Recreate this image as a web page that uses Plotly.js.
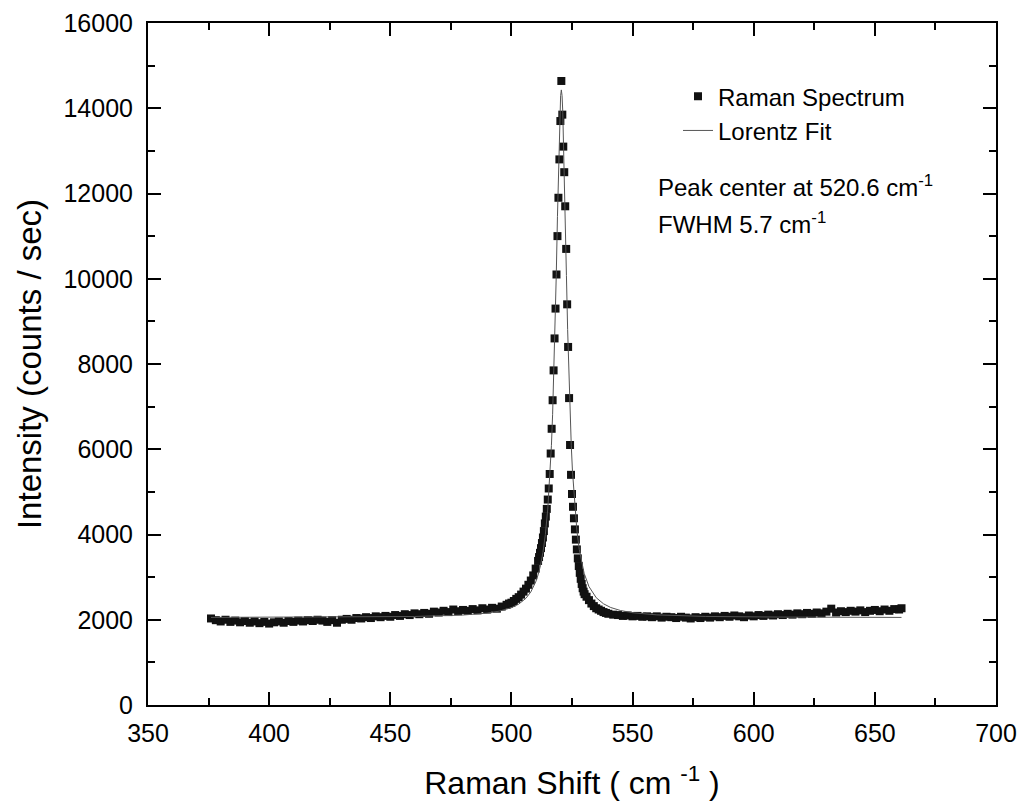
<!DOCTYPE html>
<html>
<head>
<meta charset="utf-8">
<script src="https://cdn.plot.ly/plotly-3.0.1.min.js"></script>
<style>html,body{margin:0;padding:0;background:#fff;}#chart{width:1022px;height:809px;}</style>
</head>
<body>
<div id="chart"></div>
<script>
// Measured Raman spectrum (Raman shift in cm^-1, intensity in counts/sec)
const ramanShift = [
376,378,380,382,384,386,388,390,392,394,396,398,400,402,404,406,408,410,412,414,416,418,420,422,424,426,428,430,
432,434,436,438,440,442,444,446,448,450,452,454,456,458,460,462,464,466,468,470,472,474,476,478,480,482,484,486,488,490,
492,494,496,498,499,500,501,502,503,504,505,506,507,508,509,510,511,
511.4,511.8,512.2,512.6,513.0,513.4,513.8,514.2,514.6,515.0,515.4,515.8,516.2,516.6,517.0,517.4,517.8,518.2,518.6,519.0,
519.4,519.8,520.2,520.6,521.0,521.4,521.8,522.2,522.6,523.0,523.4,523.8,524.2,524.6,525.0,525.4,525.8,526.2,526.6,527.0,
527.4,527.8,528.2,528.6,529.0,529.4,529.8,530.2,
531,532,533,534,535,536,537,538,539,540,
542,544,546,548,550,552,554,556,558,560,562,564,566,568,570,572,574,576,578,580,582,584,586,588,590,592,594,596,598,600,
602,604,606,608,610,612,614,616,618,620,622,624,626,628,630,632,634,636,638,640,642,644,646,648,650,652,654,656,658,660,661
];
const ramanIntensity = [
2030,1990,1960,2000,1950,1980,1940,1970,1930,1960,1920,1950,1910,1940,1960,1930,1970,1950,1980,1960,1990,1970,2000,1980,1950,1990,1930,2000,
2020,2000,2040,2030,2060,2040,2080,2060,2090,2070,2110,2090,2130,2110,2150,2130,2160,2140,2190,2170,2210,2180,2240,2200,2230,2210,2250,2220,2270,2240,
2280,2260,2310,2350,2380,2400,2440,2490,2530,2590,2660,2730,2820,2920,3040,3200,3380,
3470,3570,3680,3800,3930,4080,4260,4420,4600,4820,5080,5420,5900,6480,7150,7850,8600,9300,10100,11000,
11900,12800,13700,14640,13850,13100,12500,11700,10700,9400,8400,7200,6100,5400,4950,4650,4380,4120,3880,3650,
3440,3260,3100,2960,2840,2740,2660,2600,
2540,2460,2380,2320,2270,2240,2210,2180,2160,2140,
2120,2110,2090,2100,2080,2090,2070,2080,2060,2080,2050,2070,2060,2040,2070,2050,2030,2060,2040,2070,2050,2080,2060,2090,2070,2100,2080,2060,2100,2080,
2110,2090,2120,2100,2130,2110,2140,2120,2150,2130,2160,2140,2170,2150,2190,2260,2170,2200,2180,2210,2190,2220,2180,2210,2230,2200,2240,2210,2250,2240,2270
];
// Lorentz fit curve values
const fitShift = [
376,400,430,460,480,490,495,500,503,506,508,510,511,512,513,514,515,516,516.5,517,517.5,518,518.5,519,519.5,520,520.3,520.6,
520.9,521.2,521.7,522.2,522.7,523.2,523.7,524.2,524.7,525.2,526,527,528,529,530,532,535,538,541,545,550,560,580,610,640,661
];
const fitIntensity = [
2055,2057,2062,2077,2111,2156,2202,2283,2366,2504,2652,2885,3052,3275,3576,3996,4597,5484,6083,6820,7721,8807,10074,11463,12825,13905,14294,14430,
14294,13905,12825,11463,10074,8807,7721,6820,6083,5484,4747,4099,3649,3328,3092,2778,2517,2374,2287,2217,2165,2114,2078,2063,2057,2055
];
const seriesNames = ["Raman Spectrum", "Lorentz Fit"];
const xTickVals = [350,400,450,500,550,600,650,700];
const yTickVals = [0,2000,4000,6000,8000,10000,12000,14000,16000];

const FONT = "Liberation Sans, Arial, Helvetica, sans-serif";

const traces = [
  {
    x: ramanShift, y: ramanIntensity, name: seriesNames[0],
    type: "scatter", mode: "markers",
    marker: {symbol: "square", size: 8, color: "#111111"}
  },
  {
    x: fitShift, y: fitIntensity, name: seriesNames[1],
    type: "scatter", mode: "lines",
    line: {color: "#555555", width: 1}
  }
];

const axisCommon = {
  showline: true, linecolor: "#000", linewidth: 2, mirror: "allticks",
  ticks: "inside", ticklen: 13, tickwidth: 2, tickcolor: "#000",
  showgrid: false, zeroline: false,
  tickfont: {family: FONT, size: 25, color: "#000"}
};

const layout = {
  width: 1022, height: 809,
  margin: {l: 148, r: 26, t: 23, b: 104},
  paper_bgcolor: "#fff", plot_bgcolor: "#fff",
  font: {family: FONT, color: "#000"},
  showlegend: true,
  legend: {
    x: 0.625, y: 0.925, xanchor: "left", yanchor: "top",
    bgcolor: "rgba(0,0,0,0)", borderwidth: 0,
    font: {family: FONT, size: 24, color: "#000"},
    tracegroupgap: 0
  },
  xaxis: Object.assign({}, axisCommon, {
    range: [350, 700], tickvals: xTickVals, ticktext: xTickVals.map(String),
    minor: {dtick: 25, tick0: 350, ticks: "inside", ticklen: 7, tickwidth: 2, tickcolor: "#000"},
    ticklabelstandoff: 5,
    title: {text: "Raman Shift ( cm <sup>-1</sup> )", font: {family: FONT, size: 32, color: "#000"}, standoff: 26}
  }),
  yaxis: Object.assign({}, axisCommon, {
    range: [0, 16000], tickvals: yTickVals, ticktext: yTickVals.map(String),
    minor: {dtick: 1000, tick0: 0, ticks: "inside", ticklen: 7, tickwidth: 2, tickcolor: "#000"},
    ticklabelstandoff: 8,
    title: {text: "Intensity (counts / sec)", font: {family: FONT, size: 33, color: "#000"}, standoff: 12}
  }),
  annotations: [
    {xref: "paper", yref: "paper", x: 0.599, y: 0.761, xanchor: "left", yanchor: "middle",
     showarrow: false, text: "Peak center at 520.6 cm<sup>-1</sup>", font: {family: FONT, size: 24, color: "#000"}},
    {xref: "paper", yref: "paper", x: 0.599, y: 0.707, xanchor: "left", yanchor: "middle",
     showarrow: false, text: "FWHM 5.7 cm<sup>-1</sup>", font: {family: FONT, size: 24, color: "#000"}}
  ]
};

Plotly.newPlot("chart", traces, layout, {displayModeBar: false, staticPlot: true});
</script>
</body>
</html>
